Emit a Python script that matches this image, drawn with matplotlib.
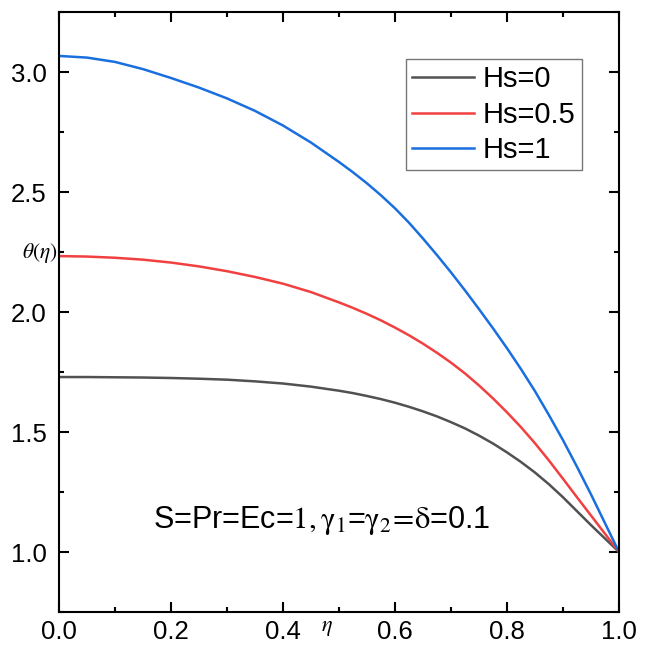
import matplotlib
matplotlib.use("Agg")
import matplotlib.pyplot as plt
from matplotlib.ticker import MultipleLocator, FormatStrFormatter

plt.rcParams['font.family'] = ['Liberation Sans', 'DejaVu Sans']
plt.rcParams['mathtext.fontset'] = 'stix'

eta = [0.00, 0.05, 0.10, 0.15, 0.20, 0.25, 0.30, 0.35, 0.40, 0.45, 0.50,
       0.525, 0.55, 0.575, 0.60, 0.625, 0.65, 0.675, 0.70, 0.725, 0.75,
       0.775, 0.80, 0.825, 0.85, 0.875, 0.90, 0.925, 0.95, 0.975, 1.00]
theta_hs0 = [1.729, 1.729, 1.728, 1.727, 1.725, 1.722, 1.718, 1.711, 1.702, 1.689, 1.672,
             1.662, 1.650, 1.637, 1.622, 1.605, 1.586, 1.565, 1.541, 1.515, 1.485,
             1.452, 1.415, 1.375, 1.331, 1.282, 1.228, 1.170, 1.112, 1.056, 1.000]
theta_hs05 = [2.233, 2.231, 2.226, 2.218, 2.206, 2.190, 2.170, 2.146, 2.118, 2.083, 2.040,
              2.017, 1.992, 1.965, 1.935, 1.903, 1.868, 1.830, 1.789, 1.744, 1.694,
              1.640, 1.582, 1.520, 1.453, 1.381, 1.305, 1.228, 1.152, 1.076, 1.000]
theta_hs1 = [3.067, 3.060, 3.042, 3.012, 2.975, 2.935, 2.890, 2.838, 2.777, 2.706, 2.625,
             2.582, 2.536, 2.486, 2.432, 2.372, 2.306, 2.237, 2.165, 2.090, 2.012,
             1.932, 1.849, 1.762, 1.670, 1.570, 1.466, 1.355, 1.240, 1.120, 1.000]
labels = ['Hs=0', 'Hs=0.5', 'Hs=1']
colors = ['#515151', '#F14040', '#1A6FDF']

fig = plt.figure(figsize=(6.48, 6.49), dpi=100)
ax = fig.add_axes([59/648, 37/649, 560/648, 600/649])

for ys, lab, c in zip([theta_hs0, theta_hs05, theta_hs1], labels, colors):
    ax.plot(eta, ys, color=c, lw=1.8, label=lab)

ax.set_xlim(0, 1)
ax.set_ylim(0.75, 3.25)
ax.xaxis.set_major_locator(MultipleLocator(0.2))
ax.xaxis.set_minor_locator(MultipleLocator(0.1))
ax.yaxis.set_major_locator(MultipleLocator(0.5))
ax.yaxis.set_minor_locator(MultipleLocator(0.25))
ax.xaxis.set_major_formatter(FormatStrFormatter('%.1f'))
ax.yaxis.set_major_formatter(FormatStrFormatter('%.1f'))
ax.set_yticks([1.0, 1.5, 2.0, 2.5, 3.0])

for s in ax.spines.values():
    s.set_linewidth(1.5)
ax.tick_params(which='both', direction='in', top=True, right=True, width=1.5)
ax.tick_params(which='major', length=7.5, labelsize=18.5)
ax.tick_params(which='minor', length=3.5)
ax.tick_params(axis='x', pad=6)
ax.tick_params(axis='y', pad=9)

ax.set_xlabel(r'$\eta$', fontsize=16, va='top')
ax.xaxis.set_label_coords(0.479, -0.008)
ax.set_ylabel(r'$\theta(\eta)$', fontsize=15.5, rotation=0, ha='right', va='center')
ax.yaxis.set_label_coords(-0.003, 0.598)

leg = ax.legend(loc='upper left', bbox_to_anchor=(347/560, 1 - 47/600), fontsize=21,
                frameon=True, fancybox=False, borderpad=0.22, handlelength=2.1,
                handletextpad=0.3, labelspacing=0.25, borderaxespad=0)
leg.get_frame().set_edgecolor('#555555')
leg.get_frame().set_linewidth(1.0)

ax.text(0.168, 1.1,
        r'S=Pr=Ec=$\mathrm{1,\gamma_1}$=$\mathrm{\gamma_2}\!=\!\mathrm{\delta}$=0.1',
        fontsize=22, ha='left', va='baseline')

fig.savefig('out.png', dpi=100)
